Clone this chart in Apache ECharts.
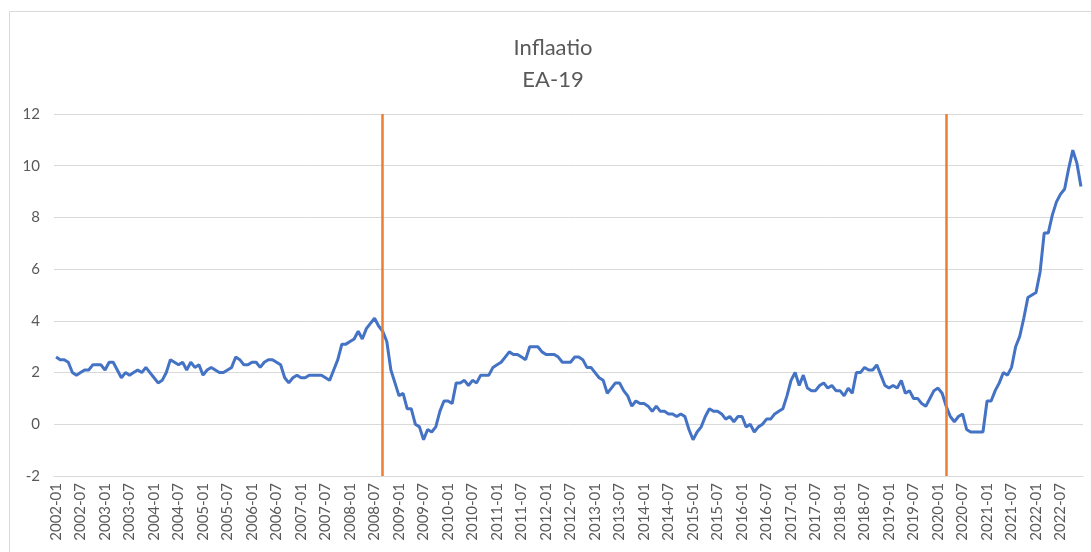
<!DOCTYPE html>
<html>
<head>
<meta charset="utf-8">
<title>Inflaatio EA-19</title>
<script src="https://cdn.jsdelivr.net/npm/echarts@6/dist/echarts.min.js"></script>
<style>
  html, body { margin: 0; padding: 0; background: #fff; }
  #container { width: 1091px; height: 552px; }
</style>
</head>
<body>
<div id="container"></div>
<script>
// kuukaudet 2002-01 ... 2022-12
var firstYear = 2002;
var lastYear = 2022;
var months = [];
for (var y = firstYear; y <= lastYear; y++) {
  for (var m = 1; m <= 12; m++) {
    months.push(y + "-" + (m < 10 ? "0" + m : m));
  }
}

// inflaatio %, yksi rivi per vuosi
var inflation = [
  2.6, 2.5, 2.5, 2.4, 2.0, 1.9, 2.0, 2.1, 2.1, 2.3, 2.3, 2.3,
  2.1, 2.4, 2.4, 2.1, 1.8, 2.0, 1.9, 2.0, 2.1, 2.0, 2.2, 2.0,
  1.8, 1.6, 1.7, 2.0, 2.5, 2.4, 2.3, 2.4, 2.1, 2.4, 2.2, 2.3,
  1.9, 2.1, 2.2, 2.1, 2.0, 2.0, 2.1, 2.2, 2.6, 2.5, 2.3, 2.3,
  2.4, 2.4, 2.2, 2.4, 2.5, 2.5, 2.4, 2.3, 1.8, 1.6, 1.8, 1.9,
  1.8, 1.8, 1.9, 1.9, 1.9, 1.9, 1.8, 1.7, 2.1, 2.5, 3.1, 3.1,
  3.2, 3.3, 3.6, 3.3, 3.7, 3.9, 4.1, 3.8, 3.6, 3.2, 2.1, 1.6,
  1.1, 1.2, 0.6, 0.6, 0.0, -0.1, -0.6, -0.2, -0.3, -0.1, 0.5, 0.9,
  0.9, 0.8, 1.6, 1.6, 1.7, 1.5, 1.7, 1.6, 1.9, 1.9, 1.9, 2.2,
  2.3, 2.4, 2.6, 2.8, 2.7, 2.7, 2.6, 2.5, 3.0, 3.0, 3.0, 2.8,
  2.7, 2.7, 2.7, 2.6, 2.4, 2.4, 2.4, 2.6, 2.6, 2.5, 2.2, 2.2,
  2.0, 1.8, 1.7, 1.2, 1.4, 1.6, 1.6, 1.3, 1.1, 0.7, 0.9, 0.8,
  0.8, 0.7, 0.5, 0.7, 0.5, 0.5, 0.4, 0.4, 0.3, 0.4, 0.3, -0.2,
  -0.6, -0.3, -0.1, 0.3, 0.6, 0.5, 0.5, 0.4, 0.2, 0.3, 0.1, 0.3,
  0.3, -0.1, 0.0, -0.3, -0.1, 0.0, 0.2, 0.2, 0.4, 0.5, 0.6, 1.1,
  1.7, 2.0, 1.5, 1.9, 1.4, 1.3, 1.3, 1.5, 1.6, 1.4, 1.5, 1.3,
  1.3, 1.1, 1.4, 1.2, 2.0, 2.0, 2.2, 2.1, 2.1, 2.3, 1.9, 1.5,
  1.4, 1.5, 1.4, 1.7, 1.2, 1.3, 1.0, 1.0, 0.8, 0.7, 1.0, 1.3,
  1.4, 1.2, 0.7, 0.3, 0.1, 0.3, 0.4, -0.2, -0.3, -0.3, -0.3, -0.3,
  0.9, 0.9, 1.3, 1.6, 2.0, 1.9, 2.2, 3.0, 3.4, 4.1, 4.9, 5.0,
  5.1, 5.9, 7.4, 7.4, 8.1, 8.6, 8.9, 9.1, 9.9, 10.6, 10.1, 9.2
];

// pystyviivat (kriisien alku)
var markerMonths = ["2008-09", "2020-03"];

var yMin = -2;
var yMax = 12;
var yStep = 2;

var dom = document.getElementById("container");
var myChart = echarts.init(dom);

var textColor = "#595959";
var gridColor = "#d9d9d9";
var fontName = "Lato";

var option = {
  animation: false,
  backgroundColor: "#fff",
  textStyle: { fontFamily: fontName },
  title: {
    text: "Inflaatio\nEA-19",
    left: 548,
    top: 27,
    textAlign: "center",
    textStyle: {
      color: textColor,
      fontFamily: fontName,
      fontWeight: "normal",
      fontSize: 22,
      lineHeight: 32
    }
  },
  graphic: [
    {
      type: "rect",
      left: 7,
      top: 9,
      shape: { width: 1100, height: 560 },
      style: { fill: "none", stroke: gridColor, lineWidth: 1 },
      silent: true
    }
  ],
  grid: {
    left: 54,
    right: 8,
    top: 114,
    bottom: 76
  },
  xAxis: {
    type: "category",
    data: months,
    boundaryGap: true,
    axisLine: { onZero: false, lineStyle: { color: gridColor } },
    axisTick: { show: false },
    axisLabel: {
      interval: 5,
      rotate: 90,
      margin: 7,
      color: textColor,
      fontFamily: fontName,
      fontSize: 15
    },
    splitLine: { show: false }
  },
  yAxis: {
    type: "value",
    min: yMin,
    max: yMax,
    interval: yStep,
    axisLine: { show: false },
    axisTick: { show: false },
    axisLabel: {
      margin: 14,
      color: textColor,
      fontFamily: fontName,
      fontSize: 15
    },
    splitLine: { lineStyle: { color: gridColor, width: 1 } }
  },
  series: [
    {
      name: "EA-19",
      type: "line",
      data: inflation,
      showSymbol: false,
      symbol: "none",
      lineStyle: { color: "#4472c4", width: 3 },
      itemStyle: { color: "#4472c4" },
      markLine: {
        silent: true,
        symbol: ["none", "none"],
        label: { show: false },
        lineStyle: { color: "#ed7d31", width: 2.5, type: "solid" },
        data: markerMonths.map(function (mo) {
          return { xAxis: mo };
        })
      }
    }
  ]
};

if (option && typeof option === "object") {
  myChart.setOption(option, true);
}
</script>
</body>
</html>
